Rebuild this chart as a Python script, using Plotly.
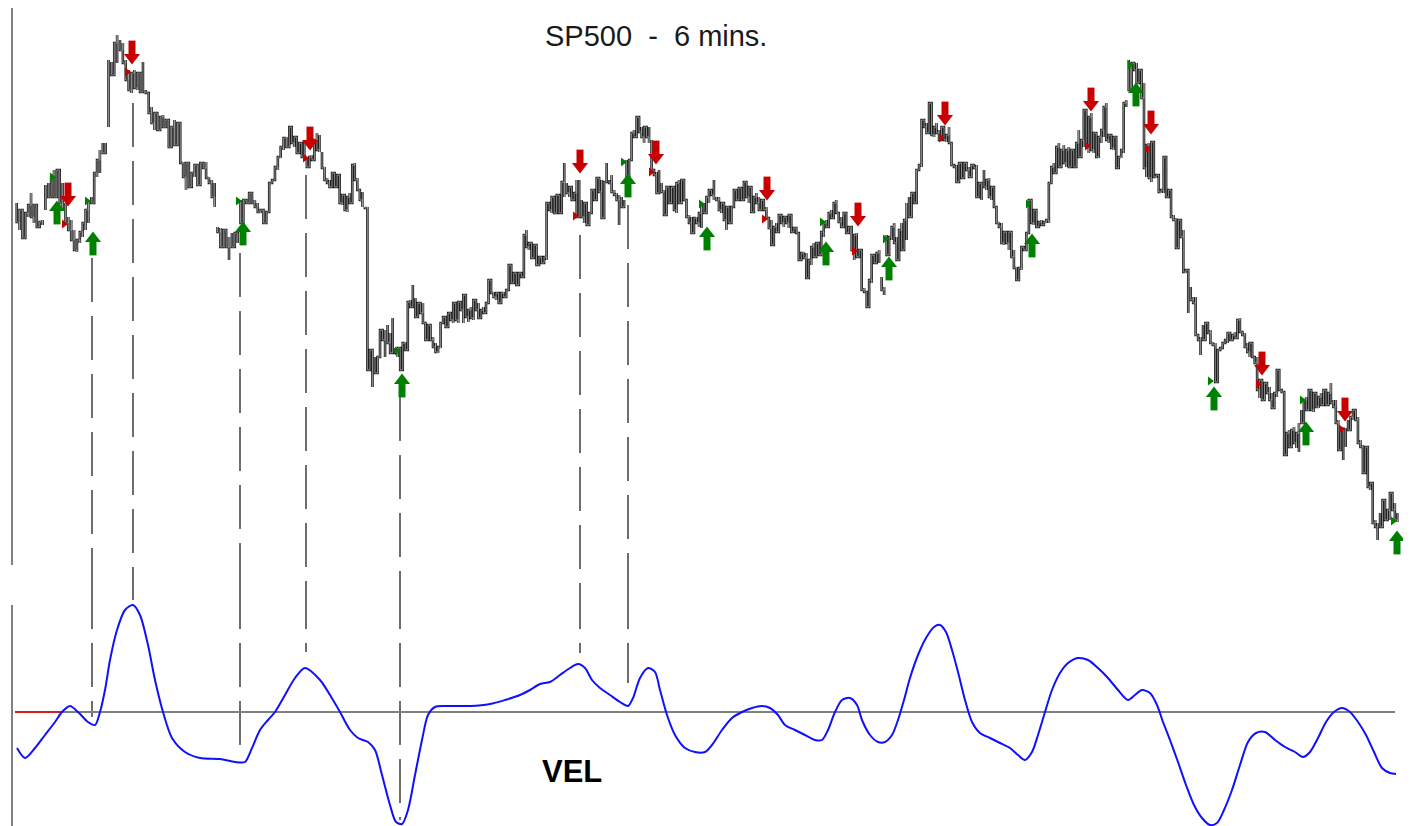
import numpy as np
import plotly.graph_objects as go

# ---------------- data ----------------
# price bars per segment as (high, low); arbitrary price units
seg1 = [(397,378),(390,370),(390,362),(387,370),(395,383),(407,383),(395,377),(383,373),(378,373),(380,375),
        (415,390),(417,403),(423,413),(430,403),(430,403),(423,397),(417,390),(397,377),(383,370),(380,360),
        (370,350),(360,348),(368,357),(377,363),(390,370),(400,377),(403,397),(427,400),(440,423),(450,427),
        (457,447),(457,452),(540,473),(538,525),(557,530),(565,537),(560,550),(557,537),(540,520),(530,510),
        (527,507),(530,512),(527,510),(523,508),(538,508),(510,507),(507,487),(493,477),(487,470),(483,470),
        (483,477),(485,473),(480,473),(473,453),(473,455),(480,455),(477,463),(475,437),(438,423),(437,410),
        (430,413),(427,417),(435,423),(435,415),(437,423),(437,432),(438,422),(423,417),(420,403),(417,393),
        (373,368),(372,353),(370,363),(370,353),(363,340),(367,353),(367,360),(363,357),(400,377),(400,388),
        (400,397),(407,397),(405,397),(400,393),(397,388),(390,387),(388,377),(388,378),(417,388),(420,417),
        (433,420),(443,430),(453,442),(462,450),(463,453),(473,457)]
seg2 = [(472,457),(463,453),(458,447),(457,448),(457,443),(460,440),(443,433),(443,437),(445,440),(460,442),
        (467,450),(465,448),(448,432),(433,420),(422,417),(420,413),(427,415),(425,413),(425,420),(423,397),
        (405,395),(400,390),(403,388),(407,397),(435,405),(437,420),(422,410),(410,400),(408,393),(393,392),
        (393,230),(250,230),(247,213),(243,227),(243,237),(270,243),(268,260),(270,243),(275,257),(267,247),
        (282,250),(252,247),(252,243),(250,230),(257,240),(258,250),(298,253),(300,293),(315,298),(302,283),
        (297,287),(297,287),(297,277),(277,260),(275,263),(265,260),(263,253),(257,248),(253,247),(277,252),
        (283,277),(282,273),(287,273),(287,280),(297,277),(290,280),(298,277),(297,290),(305,277),(297,283),
        (290,278),(293,282),(300,280),(297,290),(297,282),(290,283),(293,287),(297,292),(320,297),(320,307),
        (308,303),(307,300),(303,297),(307,297),(308,303),(310,307),(335,310),(330,317),(327,317),(322,315),
        (327,317),(327,323),(365,327),(370,353),(357,350),(355,342),(355,350),(350,335),(343,335),(343,337),
        (343,338),(397,340),(397,390),(403,387),(403,387),(405,387),(403,387),(418,390),(437,403),(417,407),
        (413,403)]
seg3 = [(407,400),(407,400),(420,383),(420,383),(400,383),(397,377),(397,375),(387,375),(410,387),(410,400),
        (422,410),(418,408),(420,382),(418,382),(437,418),(420,417),(425,408),(410,405),(407,400),(405,375),
        (403,393),(400,393),(440,420),(440,432),(467,440),(470,463),(483,470),(482,468),(473,463),(473,457),
        (473,463),(473,457),(460,430),(430,425),(428,407),(430,417),(417,408),(410,385),(413,393),(412,397),
        (413,400),(412,390),(417,387),(420,397),(420,400),(420,400),(400,383),(385,377),(383,367),(382,370),
        (383,377),(387,373),(397,372),(397,387),(403,395),(410,397),(410,405),(420,400),(403,400),(403,390),
        (397,387),(393,380),(393,370),(387,377),(393,382),(410,393),(410,400),(412,400),(410,400),(418,400),
        (413,403),(413,397),(408,388),(403,393),(407,397),(403,390),(400,393),(400,390),(393,382),(382,372),
        (380,355),(373,365),(377,368),(385,373),(385,377),(383,373),(380,377),(385,372),(385,368),(372,368),
        (370,367),(365,340),(347,340),(348,342),(347,322),(340,332),(353,335),(357,343),(357,350),(353,345),
        (368,357),(377,363),(380,373),(387,377),(390,382),(397,387),(400,387),(387,378),(383,373),(387,375),
        (383,367),(373,367)]
seg4 = [(370,350),(365,340),(367,343),(350,347),(348,310),(312,308),(307,293),(320,303),(345,317),(343,337),
        (347,337),(350,337),(323,310),(313,305),(365,345),(363,350),(373,360),(377,357),(363,340),(370,347),
        (377,350),(380,353),(397,360),(403,383),(407,390),(407,397),(430,403),(435,430),(480,433),(480,473),
        (477,467),(497,467),(492,465),(473,463),(477,467),(470,460),(473,465),(470,460),(465,458),(473,457),
        (457,435),(435,433),(435,418),(437,420),(435,422),(437,427),(435,430),(433,423),(435,430),(435,432),
        (435,403),(417,403),(417,400),(430,413),(420,410),(422,403),(413,400),(407,393),(393,377),(378,373),
        (377,357),(368,355),(368,357),(368,350),(368,343),(350,332),(333,320),(332,328),(353,330),(353,350),
        (367,353),(400,367),(397,377),(390,375),(388,373),(378,373),(380,375),(378,377),(380,377),(417,377),
        (433,417),(437,427),(453,430),(457,433),(450,437),(455,437),(450,433),(453,433),(450,440),(450,433),
        (457,440),(470,443),(460,455),(490,453),(485,453),(483,447),(487,450),(467,447),(467,443),(463,442),
        (470,457),(493,463),(497,460),(465,457),(463,452),(463,450),(457,432),(443,442),(450,442),(497,447),
        (500,493),(540,510)]
seg5 = [(537,517),(537,530),(537,517),(530,517),(518,502),(517,432),(455,423),(457,422),(458,418),(458,423),
        (425,422),(425,408),(410,407),(443,407),(442,403),(410,403),(410,383),(385,380),(382,352),(380,357),
        (370,363),(370,328),(330,327),(325,287),(313,300),(303,297),(303,265),(265,260),(263,245),(275,260),
        (277,267),(277,267),(270,257),(258,255),(257,218),(250,218),(252,250),(257,252),(260,257),(267,257),
        (263,260),(265,260),(268,262),(280,263),(282,268),(268,265),(267,253),(257,248),(257,243),(257,243),
        (243,237),(243,210),(220,202),(218,200),(217,210),(215,207),(213,200),(207,192),(207,202),(230,203),
        (230,210),(210,208),(208,145),(167,145),(170,153),(170,158),(173,157),(167,152),(177,148),(190,177),
        (200,183),(203,190),(210,200),(210,190),(207,188),(203,193),(203,192),(207,195),(210,197),(203,195),
        (207,200),(217,197),(200,193),(200,177),(180,150),(170,150),(173,140),(172,153),(180,170),(183,175),
        (190,180),(188,180),(183,157),(160,153),(155,127),(153,137),(153,113),(117,110),(113,77),(80,73),
        (77,60),(87,73),(100,80),(100,80),(90,80),(107,80),(107,90),(97,80),(87,78)]
segments = [seg1, seg2, seg3, seg4, seg5]
# session time span covered by each segment (time units)
seg_spans = [(16.7, 289.3), (291.7, 569.3), (571.7, 848.7), (851.7, 1128.7), (1131.7, 1397.3)]

# buy / sell signals: time, arrow price, small-triangle price
buy_t = [57, 93, 243, 402, 628, 707, 826, 889, 1032, 1136, 1214, 1306, 1397]
buy_arrow = [388, 357, 367, 215, 415, 362, 347, 332, 355, 506, 202, 167, 58]
buy_tri_t = [52, 87, 238, 397, 623, 701, 822, 885, 1028, 1130, 1210, 1302, 1393]
buy_tri = [423, 399, 399, 249, 438, 396, 378, 361, 396, 535, 219, 200, 79]
sell_t = [68, 132, 310, 580, 656, 767, 858, 945, 1091, 1151, 1262, 1345]
sell_arrow = [405, 547, 461, 438, 447, 411, 385, 486, 500, 477, 236, 190]
sell_tri_t = [64, 127, 305, 575, 651, 764, 854, 941, 1087, 1147, 1258, 1341]
sell_tri = [376, 528, 442, 384, 428, 381, 349, 462, 454, 451, 216, 171]

# pivots linking price and VEL (dashed lines)
pivot_t = [92, 133, 240, 306, 400, 580, 628]
pivot_price = [342, 497, 347, 425, 203, 365, 395]
pivot_vel = [-0.5, 11.2, -4.0, 6.0, -10.8, 5.9, 2.9]

# VEL indicator
vel_t = [17,25,35,45,55,62,70,78,88,95,100,105,110,117,125,133,140,148,155,163,172,185,200,220,235,245,252,260,268,275,
         285,295,305,320,333,340,350,358,368,375,382,390,396,402,408,415,422,428,435,445,470,490,505,520,530,540,550,560,570,578,
         585,592,600,610,620,628,633,640,648,655,660,667,675,685,695,705,712,722,732,742,752,762,770,778,785,795,805,815,822,828,
         835,842,850,857,862,870,878,885,892,898,904,910,918,926,934,940,946,952,958,965,972,980,990,1000,1010,1018,1025,1032,1038,1045,
         1052,1060,1068,1078,1088,1098,1108,1118,1128,1135,1142,1150,1157,1163,1170,1178,1186,1194,1202,1210,1217,1224,1232,1240,1248,1256,1265,1275,1285,1295,
         1303,1310,1318,1326,1334,1342,1350,1358,1366,1374,1382,1390,1396]
vel = [-3.6,-4.6,-3.6,-2.3,-1.0,0.0,0.6,0.0,-1.0,-1.3,0.0,2.2,5.2,8.2,10.2,10.7,9.7,6.7,3.2,0.0,-2.6,-4.0,-4.6,-4.7,-5.0,-5.0,-3.6,-1.8,-0.8,0.0,
       1.7,3.4,4.4,3.2,1.2,0.0,-1.8,-2.6,-3.0,-3.8,-6.3,-9.3,-11.0,-11.2,-9.8,-6.3,-2.8,-0.3,0.5,0.6,0.6,0.8,1.2,1.7,2.2,2.8,3.0,3.7,4.4,4.8,
       4.4,3.2,2.4,1.7,1.0,0.6,1.4,3.4,4.4,4.0,2.2,-0.3,-2.3,-3.6,-4.0,-4.0,-3.3,-1.8,-0.6,0.0,0.4,0.6,0.4,-0.3,-1.3,-1.8,-2.3,-2.8,-2.8,-1.8,
       0.0,1.2,1.4,0.7,-0.8,-2.3,-3.0,-3.0,-2.3,-0.8,1.2,3.4,5.7,7.4,8.5,8.7,8.0,6.2,4.0,1.2,-1.0,-2.1,-2.6,-3.1,-3.6,-4.3,-4.8,-4.0,-2.3,0.0,
       2.2,3.9,4.9,5.4,5.2,4.4,3.4,2.2,1.2,1.7,2.2,1.9,0.7,-1.0,-2.8,-5.0,-7.3,-9.3,-10.6,-11.3,-11.1,-9.8,-7.8,-5.3,-3.0,-2.1,-2.0,-2.8,-3.5,-4.0,
       -4.5,-4.0,-2.6,-1.0,0.0,0.4,0.0,-1.0,-2.3,-4.0,-5.6,-6.1,-6.2]
zero_span = (15, 1395)
zero_red_span = (15, 62)

title_text = "SP500\u00a0\u00a0-\u00a0\u00a06\u00a0mins."
vel_label = "VEL"

# ---------------- styling / layout ----------------
W, H = 1411, 826
OFF = 8                       # page body margin of the html page
PRICE_RANGE = [15, 600 - OFF]
split_px = 585 - OFF          # boundary between the two panels (figure px)
VEL_RANGE = [(712 - (H + OFF)) / 10, 12.7]
split = 1 - split_px / H
GREEN = "#008000"
RED = "#c80000"

# build time stamps per segment and the bar path
T, HI, LO = [], [], []
for seg, (a, b) in zip(segments, seg_spans):
    T += list(np.linspace(a, b, len(seg)))
    HI += [p[0] for p in seg]
    LO += [p[1] for p in seg]

def bar_path(t, hi, lo, gap=12):
    xs, ys = [], []
    prev = None
    for ti, h, l in zip(t, hi, lo):
        if prev is not None and (prev > h + gap or prev < l - gap):
            xs.append(None); ys.append(None); prev = None
        if prev is None or abs(prev - h) <= abs(prev - l):
            s, e = h, l
        else:
            s, e = l, h
        if prev is not None:
            xs.append(ti); ys.append(prev)
        xs += [ti, ti]; ys += [s, e]
        prev = e
    return xs, ys

bx, by = bar_path(T, HI, LO)

fig = go.Figure()

# dashed pivot lines (price part and VEL part)
dx1, dy1, dx2, dy2 = [], [], [], []
for t, p, v in zip(pivot_t, pivot_price, pivot_vel):
    dx1 += [t, t, None]; dy1 += [p, PRICE_RANGE[0], None]
    dx2 += [t, t, None]; dy2 += [VEL_RANGE[1], v, None]
dash_style = dict(color="#6e6e6e", width=2, dash="44px,14px")
fig.add_trace(go.Scatter(x=dx1, y=dy1, mode="lines", line=dash_style, xaxis="x", yaxis="y"))
fig.add_trace(go.Scatter(x=dx2, y=dy2, mode="lines", line=dash_style, xaxis="x2", yaxis="y2"))

# price bars
fig.add_trace(go.Scatter(x=bx, y=by, mode="lines", line=dict(color="#1e1e1e", width=2.6), xaxis="x", yaxis="y"))
fig.add_trace(go.Scatter(x=bx, y=by, mode="lines", line=dict(color="#a8a8a8", width=0.8), xaxis="x", yaxis="y"))

# signal triangles
fig.add_trace(go.Scatter(x=buy_tri_t, y=buy_tri, mode="markers",
                         marker=dict(symbol="triangle-right", size=8, color=GREEN), xaxis="x", yaxis="y"))
fig.add_trace(go.Scatter(x=sell_tri_t, y=sell_tri, mode="markers",
                         marker=dict(symbol="triangle-right", size=8, color=RED), xaxis="x", yaxis="y"))

# block arrows = head + stem
fig.add_trace(go.Scatter(x=buy_t, y=[p + 4.5 for p in buy_arrow], mode="markers",
                         marker=dict(symbol="triangle-up", size=14, color=GREEN), xaxis="x", yaxis="y"))
fig.add_trace(go.Scatter(x=buy_t, y=[p - 4 for p in buy_arrow], mode="markers",
                         marker=dict(symbol="line-ns", size=12, line=dict(width=7, color=GREEN)), xaxis="x", yaxis="y"))
fig.add_trace(go.Scatter(x=sell_t, y=[p - 4.5 for p in sell_arrow], mode="markers",
                         marker=dict(symbol="triangle-down", size=14, color=RED), xaxis="x", yaxis="y"))
fig.add_trace(go.Scatter(x=sell_t, y=[p + 4 for p in sell_arrow], mode="markers",
                         marker=dict(symbol="line-ns", size=12, line=dict(width=7, color=RED)), xaxis="x", yaxis="y"))

# VEL panel
fig.add_trace(go.Scatter(x=list(zero_span), y=[0, 0], mode="lines", line=dict(color="#808080", width=2),
                         xaxis="x2", yaxis="y2"))
fig.add_trace(go.Scatter(x=list(zero_red_span), y=[0, 0], mode="lines", line=dict(color="#d42020", width=2),
                         xaxis="x2", yaxis="y2"))
fig.add_trace(go.Scatter(x=vel_t, y=vel, mode="lines", line=dict(color="#1010ff", width=2, shape="spline", smoothing=0.8),
                         xaxis="x2", yaxis="y2"))

axis_common = dict(showgrid=False, zeroline=False, showticklabels=False, showline=False, ticks="", fixedrange=True)
fig.update_layout(
    width=W, height=H,
    margin=dict(l=0, r=0, t=0, b=0),
    paper_bgcolor="white", plot_bgcolor="white",
    showlegend=False, hovermode=False,
    xaxis=dict(domain=[0, 1], range=[OFF, W + OFF], anchor="y", **axis_common),
    yaxis=dict(domain=[split, 1], range=PRICE_RANGE, anchor="x", **axis_common),
    xaxis2=dict(domain=[0, 1], range=[OFF, W + OFF], anchor="y2", **axis_common),
    yaxis2=dict(domain=[0, split], range=VEL_RANGE, anchor="x2", **axis_common),
    shapes=[
        dict(type="line", xref="x", yref="paper", x0=12, x1=12, y0=1 - (565 - OFF) / H, y1=1,
             line=dict(color="#808080", width=2)),
        dict(type="line", xref="x", yref="paper", x0=12, x1=12, y0=0, y1=1 - (605 - OFF) / H,
             line=dict(color="#808080", width=2)),
    ],
    annotations=[
        dict(text=title_text, xref="paper", yref="paper", x=(656 - OFF) / W, y=1 - (36 - OFF) / H,
             xanchor="center", yanchor="middle", showarrow=False,
             font=dict(family="Liberation Sans, Arial, sans-serif", size=29, color="#1a1a1a")),
        dict(text="<b>" + vel_label + "</b>", xref="paper", yref="paper", x=(572 - OFF) / W, y=1 - (771 - OFF) / H,
             xanchor="center", yanchor="middle", showarrow=False,
             font=dict(family="Liberation Sans, Arial, sans-serif", size=31, color="#000000")),
    ],
)

fig.write_html("out.html")
